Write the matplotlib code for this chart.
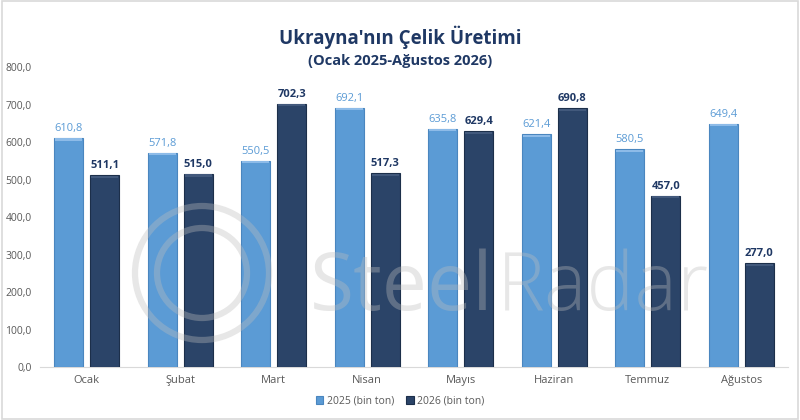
import matplotlib
matplotlib.use("Agg")
import matplotlib.pyplot as plt
import numpy as np
from matplotlib.patches import Rectangle, Ellipse

months = ["Ocak", "Şubat", "Mart", "Nisan", "Mayıs", "Haziran", "Temmuz", "Ağustos"]
v2025 = [610.8, 571.8, 550.5, 692.1, 635.8, 621.4, 580.5, 649.4]
v2026 = [511.1, 515.0, 702.3, 517.3, 629.4, 690.8, 457.0, 277.0]
yticks = [0, 100, 200, 300, 400, 500, 600, 700, 800]
label2025 = "2025 (bin ton)"
label2026 = "2026 (bin ton)"

plt.rcParams['font.family'] = ['Open Sans', 'DejaVu Sans']

fig = plt.figure(figsize=(8, 4.2), dpi=100)
ax = fig.add_axes([0.05, 0.126, 0.935, 0.714])

c25 = "#5b9bd5"
c26 = "#2b4468"
x = np.arange(len(months))
w = 0.31
gap = 0.075
off = (w + gap) / 2

b1 = ax.bar(x - off, v2025, w, color=c25, edgecolor="#4a86bf", linewidth=0.8, label=label2025, zorder=3)
b2 = ax.bar(x + off, v2026, w, color=c26, edgecolor="#1c2f4a", linewidth=0.8, label=label2026, zorder=3)

for bars, hc in ((b1, "#8dbbe8"), (b2, "#42597c")):
    for r in bars:
        ax.add_patch(Rectangle((r.get_x() + 0.01, r.get_height() - 7), r.get_width() - 0.02, 6,
                               facecolor=hc, edgecolor="none", zorder=4))

def fmt(v):
    return f"{v:.1f}".replace(".", ",")

for xi, v in zip(x, v2025):
    ax.text(xi - off, v + 11, fmt(v), ha="center", va="bottom", fontsize=8, color=c25, zorder=6)
for xi, v in zip(x, v2026):
    ax.text(xi + off, v + 11, fmt(v), ha="center", va="bottom", fontsize=8, color="#1f3864",
            fontweight="bold", zorder=6)

ax.set_xlim(-0.5, len(months) - 0.5)
ax.set_ylim(0, 800)
ax.set_yticks(yticks)
ax.set_yticklabels([fmt(t) for t in yticks], fontsize=7.5, color="#595959")
ax.set_xticks(x)
ax.set_xticklabels(months, fontsize=8, color="#595959")
ax.tick_params(axis="both", length=0, pad=6)
for s in ("top", "right", "left"):
    ax.spines[s].set_visible(False)
ax.spines["bottom"].set_color("#d9d9d9")

# watermark (semi-transparent, over the bars)
fw, fh = 800, 420
wm = dict(color="#bdbdbd", alpha=0.36, zorder=10, transform=fig.transFigure)
t1 = fig.text(310 / fw, 1 - 310 / fh, "Steel", fontsize=58, ha="left", va="baseline",
              fontweight="normal", **wm)
fig.canvas.draw()
bb = t1.get_window_extent()
fig.text(bb.x1 / fw + 0.004, 1 - 310 / fh, "Radar", fontsize=58, ha="left", va="baseline",
         fontweight="light", **wm)
for rad, lw in ((67, 4.5), (45, 4.5)):
    fig.patches.append(Ellipse((202 / fw, 1 - 273 / fh), 2 * rad / fw, 2 * rad / fh,
                               transform=fig.transFigure, fill=False,
                               edgecolor="#bdbdbd", alpha=0.36, linewidth=lw, zorder=10))

fig.text(0.5, 0.912, "Ukrayna'nın Çelik Üretimi", ha="center", va="center", fontsize=13.5,
         fontweight="bold", color="#1f3864")
fig.text(0.5, 0.855, "(Ocak 2025-Ağustos 2026)", ha="center", va="center", fontsize=10.5,
         fontweight="bold", color="#1f3864")

leg = fig.legend(handles=[b1, b2], loc="center", bbox_to_anchor=(0.5, 0.045), ncol=2,
                 frameon=False, fontsize=7.5, handlelength=0.7, handleheight=0.7,
                 columnspacing=1.2, handletextpad=0.3)
for t in leg.get_texts():
    t.set_color("#595959")

fig.patches.append(Rectangle((0.002, 0.002), 0.996, 0.996, transform=fig.transFigure,
                             fill=False, edgecolor="#d9d9d9", linewidth=1.2))

fig.savefig("out.png", dpi=100)
